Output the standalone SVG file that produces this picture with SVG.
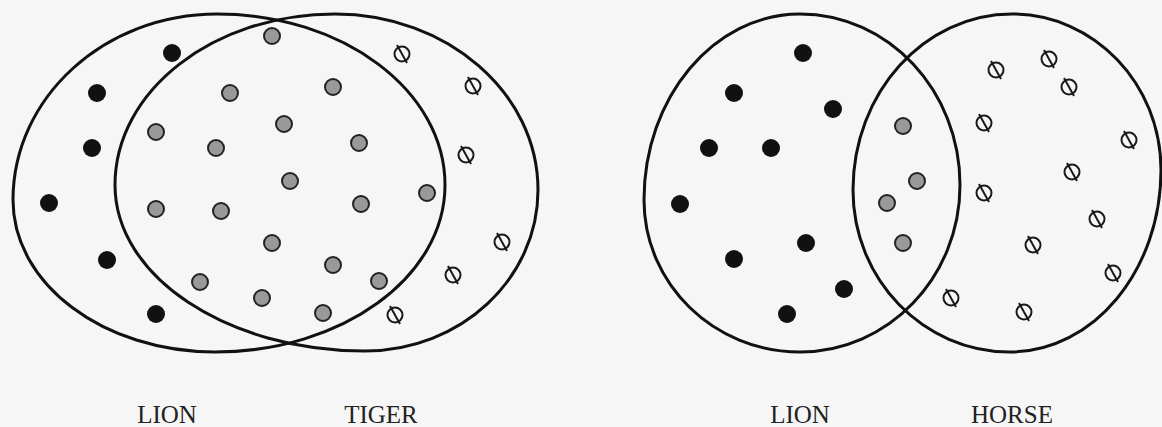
<svg xmlns="http://www.w3.org/2000/svg" xmlns:xlink="http://www.w3.org/1999/xlink" width="1162" height="427" viewBox="0 0 1162 427">
<style>
.set{fill:none;stroke:#111;stroke-width:3}
.lbl{font-family:"Liberation Serif","Times New Roman",serif;font-size:25px;fill:#222;text-anchor:middle}
.blk{fill:#111}
.gry{fill:#999;stroke:#222;stroke-width:2}
.phi{fill:none;stroke:#1a1a1a;stroke-width:2}
</style>
<defs>
<g id="phi"><circle class="phi" r="7.5"/><line class="phi" x1="-5" y1="-9" x2="5" y2="9"/></g>
<circle id="bd" class="blk" r="9"/>
<circle id="gd" class="gry" r="8"/>
</defs>
<rect width="1162" height="427" fill="#f6f6f6"/>
<g id="connectors"/>
<g id="set-lion-1">
<path class="set" d="M13,200 C13,97.3 104.4,14 217,14 C342.9,14 445,90.6 445,185 C445,277.2 342,352 215,352 C103.5,352 13,283.9 13,200 Z"/>
<text class="lbl" x="167" y="423">LION</text>
</g>
<g id="set-tiger">
<path class="set" d="M115,185 C115,90.6 213.6,14 335,14 C447,14 538,92.8 538,190 C538,278.9 460.5,351 365,351 C227,351 115,276.6 115,185 Z"/>
<text class="lbl" x="381" y="423">TIGER</text>
</g>
<g id="set-lion-2">
<path class="set" d="M644,200 C644,97.3 713.9,14 800,14 C888.3,14 960,90.6 960,185 C960,277.2 888.3,352 800,352 C713.9,352 644,283.9 644,200 Z"/>
<text class="lbl" x="800" y="423">LION</text>
</g>
<g id="set-horse">
<path class="set" d="M853,190 C853,92.8 924.2,14 1012,14 C1094.2,14 1161,83.9 1161,170 C1161,270.5 1093.4,352 1010,352 C923.3,352 853,279.4 853,190 Z"/>
<text class="lbl" x="1012" y="423">HORSE</text>
</g>
<g id="dots-left">
<use xlink:href="#bd" x="172" y="53"/>
<use xlink:href="#bd" x="97" y="93"/>
<use xlink:href="#bd" x="92" y="148"/>
<use xlink:href="#bd" x="49" y="203"/>
<use xlink:href="#bd" x="107" y="260"/>
<use xlink:href="#bd" x="156" y="314"/>
<use xlink:href="#gd" x="272" y="36"/>
<use xlink:href="#gd" x="230" y="93"/>
<use xlink:href="#gd" x="333" y="87"/>
<use xlink:href="#gd" x="156" y="132"/>
<use xlink:href="#gd" x="216" y="148"/>
<use xlink:href="#gd" x="284" y="124"/>
<use xlink:href="#gd" x="359" y="143"/>
<use xlink:href="#gd" x="290" y="181"/>
<use xlink:href="#gd" x="427" y="193"/>
<use xlink:href="#gd" x="156" y="209"/>
<use xlink:href="#gd" x="221" y="211"/>
<use xlink:href="#gd" x="361" y="204"/>
<use xlink:href="#gd" x="272" y="243"/>
<use xlink:href="#gd" x="200" y="282"/>
<use xlink:href="#gd" x="262" y="298"/>
<use xlink:href="#gd" x="333" y="265"/>
<use xlink:href="#gd" x="379" y="281"/>
<use xlink:href="#gd" x="323" y="313"/>
<use xlink:href="#phi" x="402" y="54"/>
<use xlink:href="#phi" x="473" y="86"/>
<use xlink:href="#phi" x="466" y="155"/>
<use xlink:href="#phi" x="502" y="242"/>
<use xlink:href="#phi" x="453" y="275"/>
<use xlink:href="#phi" x="395" y="315"/>
</g>
<g id="dots-right">
<use xlink:href="#bd" x="803" y="53"/>
<use xlink:href="#bd" x="734" y="93"/>
<use xlink:href="#bd" x="833" y="109"/>
<use xlink:href="#bd" x="709" y="148"/>
<use xlink:href="#bd" x="771" y="148"/>
<use xlink:href="#bd" x="680" y="204"/>
<use xlink:href="#bd" x="734" y="259"/>
<use xlink:href="#bd" x="806" y="243"/>
<use xlink:href="#bd" x="844" y="289"/>
<use xlink:href="#bd" x="787" y="314"/>
<use xlink:href="#gd" x="903" y="126"/>
<use xlink:href="#gd" x="917" y="181"/>
<use xlink:href="#gd" x="887" y="203"/>
<use xlink:href="#gd" x="903" y="243"/>
<use xlink:href="#phi" x="996" y="70"/>
<use xlink:href="#phi" x="1049" y="59"/>
<use xlink:href="#phi" x="1069" y="87"/>
<use xlink:href="#phi" x="984" y="123"/>
<use xlink:href="#phi" x="1129" y="140"/>
<use xlink:href="#phi" x="1072" y="172"/>
<use xlink:href="#phi" x="984" y="193"/>
<use xlink:href="#phi" x="1097" y="219"/>
<use xlink:href="#phi" x="1033" y="245"/>
<use xlink:href="#phi" x="1113" y="273"/>
<use xlink:href="#phi" x="951" y="298"/>
<use xlink:href="#phi" x="1024" y="312"/>
</g>
</svg>
